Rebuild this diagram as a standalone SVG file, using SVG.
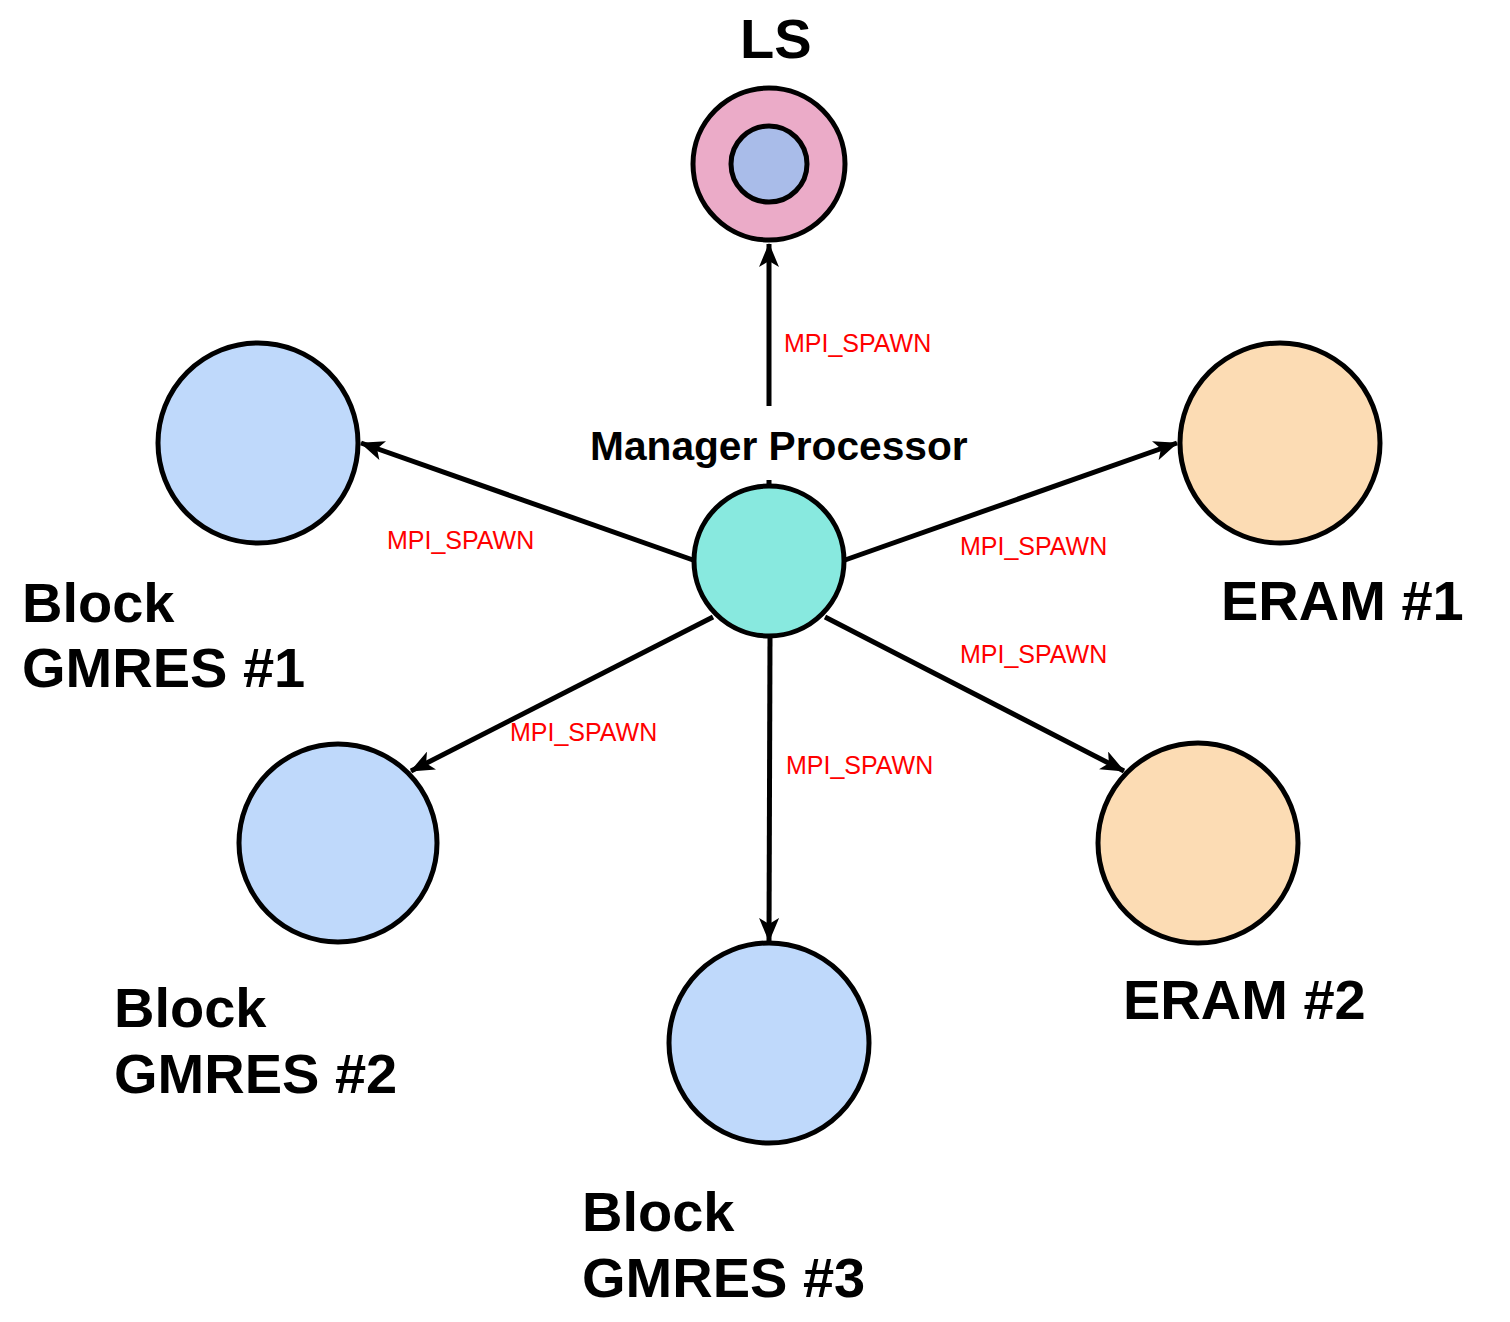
<svg xmlns="http://www.w3.org/2000/svg" width="1510" height="1322" viewBox="0 0 1510 1322">
<defs>
<style>
.node{stroke:#000;stroke-width:5}
.blue{fill:#BFD9FB}
.orange{fill:#FCDCB4}
.big{font-family:"Liberation Sans",Arial,sans-serif;font-weight:bold;font-size:56px;fill:#000}
.lbl{font-family:"Liberation Sans",Arial,sans-serif;font-size:25px;fill:#FF0000}
.edge{stroke:#000;stroke-width:5;fill:none;marker-end:url(#arr)}
</style>
<marker id="arr" viewBox="0 0 24 20" refX="23" refY="10" markerWidth="24" markerHeight="20" markerUnits="userSpaceOnUse" orient="auto">
<path d="M0,0 L24,10 L0,20 L6,10 z" fill="#000"/>
</marker>
</defs>
<rect width="1510" height="1322" fill="#fff"/>
<g id="connectors">
<path class="edge" d="M769,486 L769,480 M769,406 L769,244"/>
<path class="edge" d="M693,560 L361,443"/>
<path class="edge" d="M845,560 L1177,443"/>
<path class="edge" d="M713,617 L411,771"/>
<path class="edge" d="M825,617 L1124,771"/>
<path class="edge" d="M770,637 L769,941"/>
<text class="lbl" x="784" y="352">MPI_SPAWN</text>
<text class="lbl" x="387" y="549">MPI_SPAWN</text>
<text class="lbl" x="960" y="555">MPI_SPAWN</text>
<text class="lbl" x="960" y="663">MPI_SPAWN</text>
<text class="lbl" x="510" y="741">MPI_SPAWN</text>
<text class="lbl" x="786" y="774">MPI_SPAWN</text>
</g>
<g id="ls">
<circle class="node" cx="769" cy="164" r="76" fill="#EBABC8"/>
<circle class="node" cx="769" cy="164" r="38" fill="#A9BCE9"/>
<text class="big" x="740" y="58" font-size="54">LS</text>
</g>
<g id="manager">
<circle class="node" cx="769" cy="561" r="75" fill="#88E9DF"/>
<text x="590" y="460" font-family="Liberation Sans,Arial,sans-serif" font-weight="bold" font-size="40.7">Manager Processor</text>
</g>
<g id="gmres1">
<circle class="node blue" cx="258" cy="443" r="100"/>
<text class="big" x="22" y="622">Block</text>
<text class="big" x="22" y="687">GMRES #1</text>
</g>
<g id="eram1">
<circle class="node orange" cx="1280" cy="443" r="100"/>
<text class="big" x="1221" y="620">ERAM #1</text>
</g>
<g id="gmres2">
<circle class="node blue" cx="338" cy="843" r="99"/>
<text class="big" x="114" y="1027">Block</text>
<text class="big" x="114" y="1093">GMRES #2</text>
</g>
<g id="eram2">
<circle class="node orange" cx="1198" cy="843" r="100"/>
<text class="big" x="1123" y="1019">ERAM #2</text>
</g>
<g id="gmres3">
<circle class="node blue" cx="769" cy="1043" r="100"/>
<text class="big" x="582" y="1231">Block</text>
<text class="big" x="582" y="1297">GMRES #3</text>
</g>
</svg>
